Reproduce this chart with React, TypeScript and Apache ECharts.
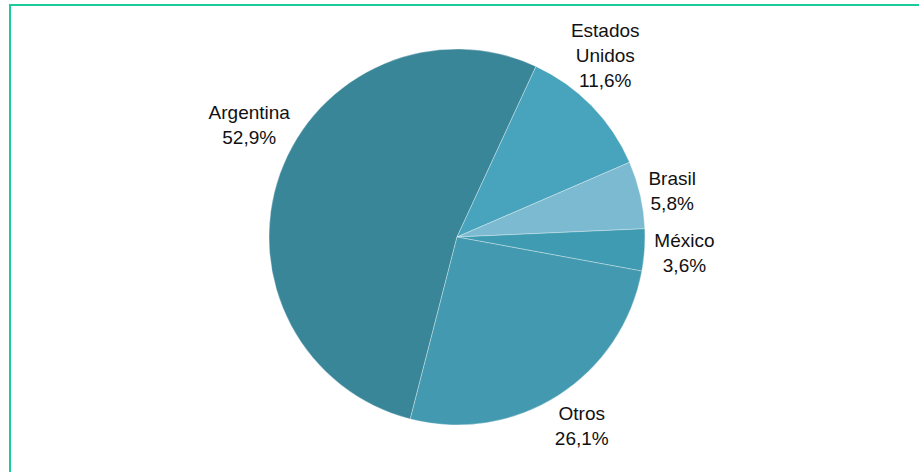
import React, { useEffect, useRef } from "react";
import * as echarts from "echarts";

const categories = ["Argentina", "Estados Unidos", "Brasil", "México", "Otros"];
const shares = [52.9, 11.6, 5.8, 3.6, 26.1];
const sliceColors = ["#3a8699", "#48a4bc", "#7bbad0", "#3f9bb1", "#4399b0"];

export default function App() {
  const ref = useRef<HTMLDivElement>(null);
  useEffect(() => {
    if (!ref.current) return;
    const labelNudge: [number, number][] = [
      [12, -35],
      [-20, -22],
      [-12, 5],
      [-5, 0],
      [-3, -3],
    ];
    const chart = echarts.init(ref.current, null, { renderer: "svg" });
    chart.setOption({
      animation: false,
      backgroundColor: "#ffffff",
      graphic: [
        {
          type: "rect",
          shape: { x: 10, y: 5, width: 940, height: 500 },
          style: { fill: "none", stroke: "#1ccb9b", lineWidth: 2 },
          silent: true,
        },
      ],
      series: [
        {
          type: "pie",
          center: [457, 237],
          radius: 188,
          startAngle: 255.6,
          clockwise: true,
          avoidLabelOverlap: false,
          itemStyle: { borderColor: "rgba(255,255,255,0.55)", borderWidth: 0.6 },
          label: {
            show: true,
            position: "outside",
            fontFamily: "Liberation Sans, Arial, sans-serif",
            fontSize: 19,
            lineHeight: 25,
            color: "#111",
            formatter: (p: any) =>
              `${String(p.name).replace(" ", "\n")}\n${Number(p.value).toFixed(1).replace(".", ",")}%`,
          },
          labelLine: { show: false, length: 40, length2: 0 },
          labelLayout: (p: any) => ({
            align: "center",
            dx: labelNudge[p.dataIndex][0],
            dy: labelNudge[p.dataIndex][1],
          }),
          data: categories.map((c, i) => ({
            name: c,
            value: shares[i],
            itemStyle: { color: sliceColors[i] },
          })),
        },
      ],
    });
    return () => chart.dispose();
  }, []);
  return (
    <div
      ref={ref}
      style={{ position: "absolute", left: 0, top: 0, width: 919, height: 472 }}
    />
  );
}
